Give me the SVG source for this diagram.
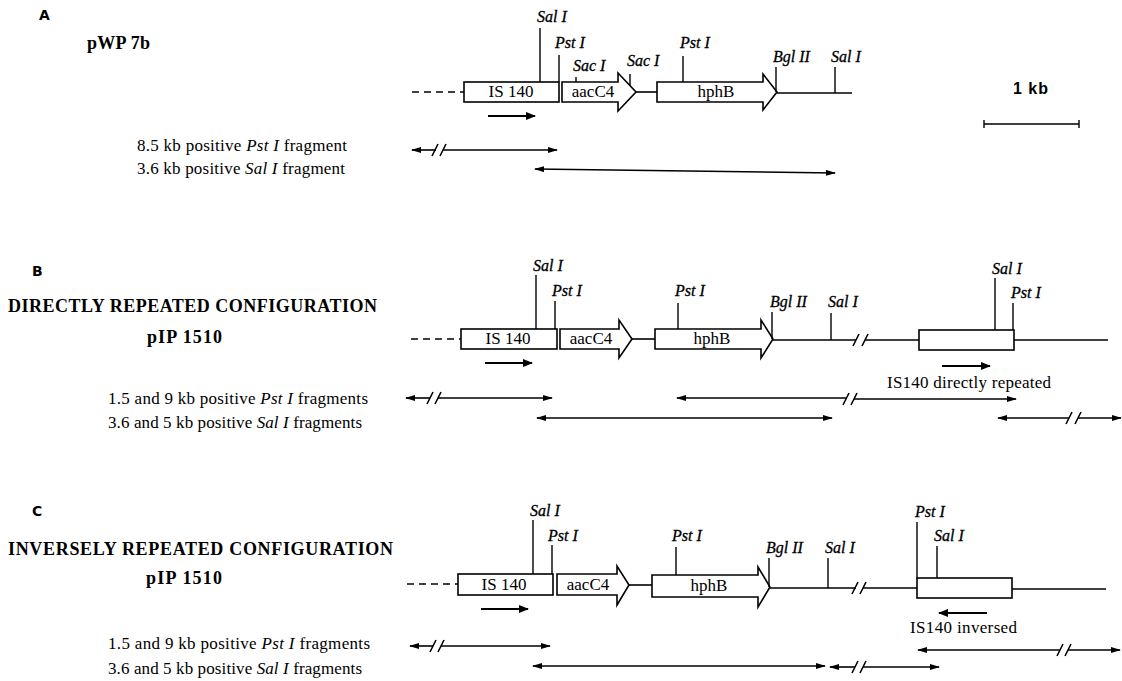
<svg xmlns="http://www.w3.org/2000/svg" width="1122" height="681" viewBox="0 0 1122 681">
<style>
.bg{fill:#fff}
.box{fill:#fff;stroke:#000;stroke-width:1.6}
.ln{stroke:#000;stroke-width:1.6;fill:none}
.tk{stroke:#000;stroke-width:1.4;fill:none}
.dash{stroke:#000;stroke-width:1.6;stroke-dasharray:7 5;fill:none}
.fr{stroke:#000;stroke-width:1.6;fill:none;marker-start:url(#ah);marker-end:url(#ah)}
.ar{stroke:#000;stroke-width:1.8;fill:none;marker-end:url(#ah2)}
.site{font-family:"Liberation Serif",serif;font-style:italic;font-size:16px;fill:#000;stroke:#000;stroke-width:0.3}
.gene{font-family:"Liberation Serif",serif;font-size:17px;fill:#000;text-anchor:middle}
.txt{font-family:"Liberation Serif",serif;font-size:17px;fill:#000}
.it{font-style:italic}
.hd{font-family:"Liberation Serif",serif;font-weight:bold;font-size:18px;fill:#000}
.pl{font-family:"DejaVu Sans",sans-serif;font-weight:bold;font-size:14px;fill:#000}
.kb{font-family:"Liberation Sans",sans-serif;font-weight:bold;font-size:16px;fill:#000}
</style>
<defs>
<marker id="ah" viewBox="0 0 10 6" refX="9" refY="3" markerWidth="10" markerHeight="6" markerUnits="userSpaceOnUse" orient="auto-start-reverse"><path d="M0,0 L10,3 L0,6 z" fill="#000"/></marker>
<marker id="ah2" viewBox="0 0 10 8" refX="9" refY="4" markerWidth="10" markerHeight="8" markerUnits="userSpaceOnUse" orient="auto"><path d="M0,0 L10,4 L0,8 z" fill="#000"/></marker>
</defs>
<rect class="bg" width="1122" height="681"/>

<!-- ================= PANEL A ================= -->
<g id="panelA-labels">
<text class="pl" x="39" y="20">A</text>
<text class="hd" x="87" y="49" textLength="63">pWP 7b</text>
<text class="txt" x="137" y="151" textLength="210">8.5 kb positive <tspan class="it">Pst I</tspan> fragment</text>
<text class="txt" x="137" y="174" textLength="208">3.6 kb positive <tspan class="it">Sal I</tspan> fragment</text>
</g>
<g id="A-IS140">
<rect class="box" x="464" y="82" width="95" height="20"/>
<text class="gene" x="511" y="97">IS 140</text>
</g>
<g id="A-aacC4">
<path class="box" d="M562,82 H618 V73 L636,92 L618,111 V102 H562 Z"/>
<text class="gene" x="593" y="97">aacC4</text>
</g>
<g id="A-hphB">
<path class="box" d="M657,82 H763 V74 L777,92 L763,110 V102 H657 Z"/>
<text class="gene" x="716" y="97">hphB</text>
</g>
<g id="A-sites">
<line class="tk" x1="540" y1="28" x2="540" y2="82"/><text class="site" x="537" y="22">Sal I</text>
<line class="tk" x1="559" y1="55" x2="559" y2="82"/><text class="site" x="555" y="48">Pst I</text>
<line class="tk" x1="576" y1="77" x2="576" y2="82"/><text class="site" x="573" y="71">Sac I</text>
<line class="tk" x1="630" y1="74" x2="630" y2="86"/><text class="site" x="627" y="66">Sac I</text>
<line class="tk" x1="683" y1="56" x2="683" y2="82"/><text class="site" x="680" y="48">Pst I</text>
<line class="tk" x1="776" y1="67" x2="776" y2="92"/><text class="site" x="773" y="62">Bgl II</text>
<line class="tk" x1="835" y1="67" x2="835" y2="93"/><text class="site" x="831" y="62">Sal I</text>
</g>
<g id="A-scale">
<text class="kb" x="1013" y="94" textLength="35">1 kb</text>
<line class="ln" x1="984" y1="124" x2="1079" y2="124"/>
<line class="tk" x1="984" y1="120" x2="984" y2="128"/>
<line class="tk" x1="1079" y1="120" x2="1079" y2="128"/>
</g>
<g id="A-connectors">
<line class="dash" x1="412" y1="92" x2="464" y2="92"/>
<line class="ln" x1="636" y1="92" x2="657" y2="92"/>
<line class="ln" x1="777" y1="93" x2="852" y2="93"/>
<line class="ar" x1="488" y1="116" x2="535" y2="116"/>
<path class="ln" d="M432,156 L438,144 M440,156 L446,144"/>
<line class="fr" x1="412" y1="150" x2="436" y2="150" style="marker-end:none"/>
<line class="fr" x1="443" y1="150" x2="557" y2="150" style="marker-start:none"/>
<line class="fr" x1="535" y1="169" x2="835" y2="173"/>
</g>

<!-- ================= PANEL B ================= -->
<g id="panelB-labels">
<text class="pl" x="32" y="276">B</text>
<text class="hd" x="8" y="312" textLength="369">DIRECTLY REPEATED CONFIGURATION</text>
<text class="hd" x="147" y="343" textLength="75">pIP 1510</text>
<text class="txt" x="108" y="404" textLength="260">1.5 and 9 kb positive <tspan class="it">Pst I</tspan> fragments</text>
<text class="txt" x="108" y="428" textLength="254">3.6 and 5 kb positive <tspan class="it">Sal I</tspan> fragments</text>
</g>
<g id="B-IS140">
<rect class="box" x="461" y="329" width="96" height="20"/>
<text class="gene" x="508" y="344">IS 140</text>
</g>
<g id="B-aacC4">
<path class="box" d="M560,329 H619 V320 L632,339 L619,358 V349 H560 Z"/>
<text class="gene" x="591" y="344">aacC4</text>
</g>
<g id="B-hphB">
<path class="box" d="M655,329 H761 V320 L773,339 L761,358 V349 H655 Z"/>
<text class="gene" x="712" y="344">hphB</text>
</g>
<g id="B-IS140-repeat">
<rect class="box" x="919" y="330" width="95" height="20"/>
<line class="ar" x1="942" y1="366" x2="990" y2="366"/>
<text class="txt" x="887" y="388" textLength="164">IS140 directly repeated</text>
</g>
<g id="B-sites">
<line class="tk" x1="536" y1="275" x2="536" y2="329"/><text class="site" x="533" y="271">Sal I</text>
<line class="tk" x1="555" y1="301" x2="555" y2="329"/><text class="site" x="552" y="296">Pst I</text>
<line class="tk" x1="678" y1="303" x2="678" y2="329"/><text class="site" x="675" y="296">Pst I</text>
<line class="tk" x1="772" y1="312" x2="772" y2="339"/><text class="site" x="770" y="307">Bgl II</text>
<line class="tk" x1="831" y1="313" x2="831" y2="340"/><text class="site" x="828" y="307">Sal I</text>
<line class="tk" x1="995" y1="278" x2="995" y2="330"/><text class="site" x="992" y="274">Sal I</text>
<line class="tk" x1="1013" y1="303" x2="1013" y2="330"/><text class="site" x="1011" y="298">Pst I</text>
</g>
<g id="B-connectors">
<line class="dash" x1="411" y1="339" x2="461" y2="339"/>
<line class="ln" x1="632" y1="339" x2="655" y2="339"/>
<line class="ln" x1="773" y1="340" x2="856" y2="340"/>
<path class="ln" d="M853,346 L859,334 M862,346 L868,334"/>
<line class="ln" x1="865" y1="340" x2="919" y2="340"/>
<line class="ln" x1="1014" y1="340" x2="1108" y2="340"/>
<line class="ar" x1="485" y1="363" x2="532" y2="363"/>
<path class="ln" d="M427,404 L433,392 M435,404 L441,392"/>
<line class="fr" x1="406" y1="398" x2="430" y2="398" style="marker-end:none"/>
<line class="fr" x1="438" y1="398" x2="552" y2="398" style="marker-start:none"/>
<path class="ln" d="M843,405 L849,393 M851,405 L857,393"/>
<line class="fr" x1="677" y1="398" x2="846" y2="398" style="marker-end:none"/>
<line class="fr" x1="854" y1="399" x2="1016" y2="399" style="marker-start:none"/>
<line class="fr" x1="537" y1="418" x2="832" y2="418"/>
<path class="ln" d="M1066,424 L1072,412 M1075,424 L1081,412"/>
<line class="fr" x1="998" y1="418" x2="1069" y2="418" style="marker-end:none"/>
<line class="fr" x1="1078" y1="418" x2="1121" y2="418" style="marker-start:none"/>
</g>

<!-- ================= PANEL C ================= -->
<g id="panelC-labels">
<text class="pl" x="32" y="516">C</text>
<text class="hd" x="8" y="555" textLength="385">INVERSELY REPEATED CONFIGURATION</text>
<text class="hd" x="146" y="584" textLength="76">pIP 1510</text>
<text class="txt" x="108" y="649" textLength="262">1.5 and 9 kb positive <tspan class="it">Pst I</tspan> fragments</text>
<text class="txt" x="108" y="674" textLength="254">3.6 and 5 kb positive <tspan class="it">Sal I</tspan> fragments</text>
</g>
<g id="C-IS140">
<rect class="box" x="458" y="574" width="95" height="21"/>
<text class="gene" x="504" y="590">IS 140</text>
</g>
<g id="C-aacC4">
<path class="box" d="M557,574 H617 V566 L629,585 L617,605 V595 H557 Z"/>
<text class="gene" x="588" y="590">aacC4</text>
</g>
<g id="C-hphB">
<path class="box" d="M652,575 H758 V567 L770,587 L758,607 V597 H652 Z"/>
<text class="gene" x="709" y="591">hphB</text>
</g>
<g id="C-IS140-inverse">
<rect class="box" x="917" y="578" width="95" height="20"/>
<line class="ar" x1="987" y1="613" x2="939" y2="613"/>
<text class="txt" x="910" y="633" textLength="107">IS140 inversed</text>
</g>
<g id="C-sites">
<line class="tk" x1="533" y1="520" x2="533" y2="574"/><text class="site" x="530" y="516">Sal I</text>
<line class="tk" x1="552" y1="545" x2="552" y2="574"/><text class="site" x="548" y="541">Pst I</text>
<line class="tk" x1="676" y1="547" x2="676" y2="575"/><text class="site" x="672" y="541">Pst I</text>
<line class="tk" x1="769" y1="558" x2="769" y2="587"/><text class="site" x="766" y="553">Bgl II</text>
<line class="tk" x1="828" y1="558" x2="828" y2="588"/><text class="site" x="825" y="553">Sal I</text>
<line class="tk" x1="917" y1="522" x2="917" y2="578"/><text class="site" x="915" y="517">Pst I</text>
<line class="tk" x1="937" y1="546" x2="937" y2="578"/><text class="site" x="934" y="541">Sal I</text>
</g>
<g id="C-connectors">
<line class="dash" x1="407" y1="584" x2="458" y2="584"/>
<line class="ln" x1="629" y1="585" x2="652" y2="585"/>
<line class="ln" x1="770" y1="588" x2="856" y2="588"/>
<path class="ln" d="M852,594 L858,582 M860,594 L866,582"/>
<line class="ln" x1="863" y1="588" x2="917" y2="588"/>
<line class="ln" x1="1012" y1="589" x2="1106" y2="589"/>
<line class="ar" x1="481" y1="609" x2="528" y2="609"/>
<path class="ln" d="M430,652 L436,640 M438,652 L444,640"/>
<line class="fr" x1="410" y1="646" x2="433" y2="646" style="marker-end:none"/>
<line class="fr" x1="441" y1="646" x2="550" y2="646" style="marker-start:none"/>
<line class="fr" x1="533" y1="666" x2="825" y2="666"/>
<path class="ln" d="M852,673 L858,661 M860,673 L866,661"/>
<line class="fr" x1="830" y1="667" x2="855" y2="667" style="marker-end:none"/>
<line class="fr" x1="863" y1="667" x2="939" y2="667" style="marker-start:none"/>
<path class="ln" d="M1057,656 L1063,644 M1065,656 L1071,644"/>
<line class="fr" x1="918" y1="650" x2="1060" y2="650" style="marker-end:none"/>
<line class="fr" x1="1068" y1="650" x2="1120" y2="650" style="marker-start:none"/>
</g>
</svg>
